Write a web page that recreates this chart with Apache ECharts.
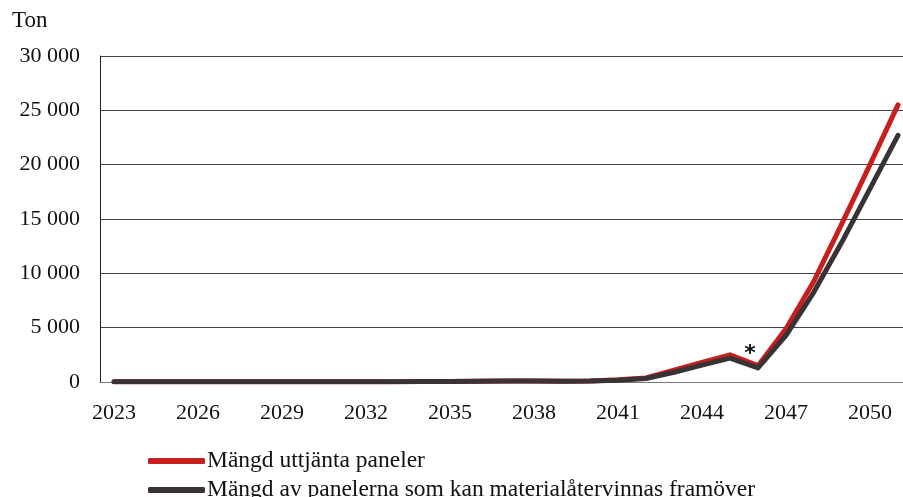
<!DOCTYPE html>
<html>
<head>
<meta charset="utf-8">
<script src="https://cdn.jsdelivr.net/npm/echarts@6/dist/echarts.min.js"></script>
<style>
html,body{margin:0;padding:0;background:#fff;overflow:hidden;width:903px;height:497px;}
#chart{width:912px;height:520px;}
</style>
</head>
<body>
<div id="chart"></div>
<script>
const years = ['2023','2024','2025','2026','2027','2028','2029','2030','2031','2032','2033','2034','2035','2036','2037','2038','2039','2040','2041','2042','2043','2044','2045','2046','2047','2048','2049','2050','2051'];
const uttjanta = [20,20,20,20,20,20,30,30,30,30,30,40,50,80,100,100,80,100,200,380,1100,1800,2500,1500,4900,9300,14600,20000,25500];
const atervinnas = [15,15,15,15,15,15,25,25,25,25,25,35,45,70,90,90,70,90,170,320,900,1550,2200,1300,4300,8300,12900,17800,22700];
const seriesNames = ['Mängd uttjänta paneler','Mängd av panelerna som kan materialåtervinnas framöver'];
const yTicks = {min:0, max:30000, interval:5000};
const unitLabel = 'Ton';
const noteIndex = 23;
const noteText = '*';

const font = 'Liberation Serif';
const fmt = v => String(v).replace(/\B(?=(\d{3})+(?!\d))/g, ' ');

const chart = echarts.init(document.getElementById('chart'));
chart.setOption({
  animation:false,
  backgroundColor:'#fff',
  textStyle:{fontFamily:font},
  title:{text:unitLabel, left:7, top:4, padding:[5,5,5,5], textStyle:{fontFamily:font, fontSize:23, fontWeight:'normal', color:'#111'}},
  grid:{left:100, right:0, top:56, bottom:520-382, containLabel:false},
  legend:{
    orient:'vertical', left:148, top:449, itemGap:5, padding:0,
    itemWidth:57, itemHeight:6,
    textStyle:{fontFamily:font, fontSize:23.5, color:'#111', padding:[0,0,0,-3]},
    data:[{name:seriesNames[0], icon:'roundRect'},{name:seriesNames[1], icon:'roundRect'}]
  },
  xAxis:{
    type:'category', data:years, boundaryGap:true,
    axisLine:{show:true, lineStyle:{color:'#777', width:1}},
    axisTick:{show:false},
    axisLabel:{interval:2, margin:20, fontFamily:font, fontSize:22, color:'#111'}
  },
  yAxis:{
    type:'value', min:yTicks.min, max:yTicks.max, interval:yTicks.interval,
    axisLine:{show:true, lineStyle:{color:'#222', width:1}},
    axisTick:{show:false},
    splitLine:{show:true, lineStyle:{color:'#444', width:1}},
    axisLabel:{margin:20, fontFamily:font, fontSize:22, color:'#111', formatter:fmt}
  },
  series:[
    {name:seriesNames[0], type:'line', data:uttjanta,
     symbol:'none', lineStyle:{color:'#c81e1e', width:5, cap:'round', join:'round'}, itemStyle:{color:'#c81e1e'},
     markPoint:{
       symbol:'circle', symbolSize:1, itemStyle:{color:'rgba(0,0,0,0)'},
       label:{show:true, formatter:noteText, position:'top', offset:[-8,5], fontSize:22, fontWeight:'bold', color:'#111', fontFamily:'DejaVu Sans'},
       data:[{coord:[years[noteIndex], uttjanta[noteIndex]]}]
     }},
    {name:seriesNames[1], type:'line', data:atervinnas, symbol:'none',
     lineStyle:{color:'#3a3335', width:5, cap:'round', join:'round'}, itemStyle:{color:'#3a3335'}}
  ]
});
</script>
</body>
</html>
